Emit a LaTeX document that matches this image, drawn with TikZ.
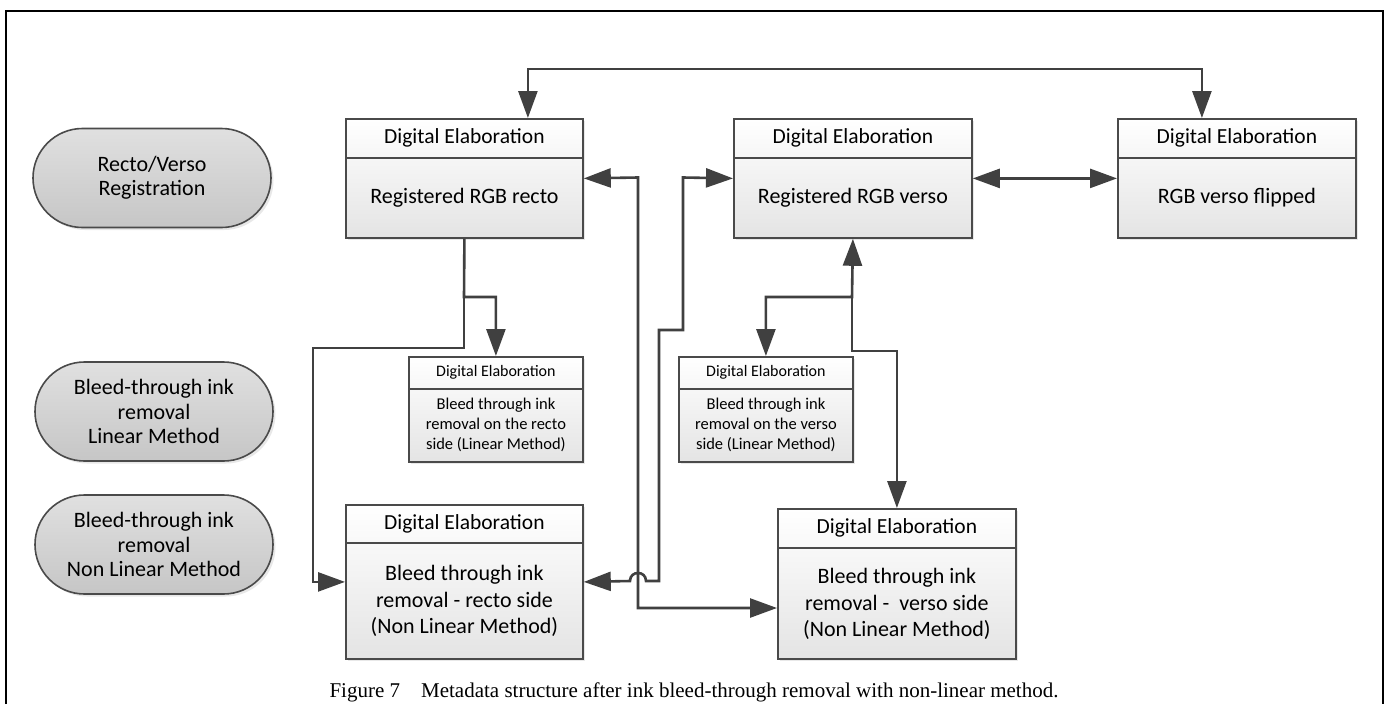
\documentclass[tikz,border=0pt]{standalone}
\usepackage{fontspec}
\setmainfont{Carlito}
\newfontfamily\capfont{Liberation Serif}
\usetikzlibrary{arrows.meta,shadows,calc}
\definecolor{lc}{HTML}{404040}
\definecolor{bc}{HTML}{4A4A4A}
\definecolor{boxbot}{HTML}{E4E4E4}
\definecolor{ovtop}{HTML}{E0E0E0}
\definecolor{ovbot}{HTML}{C6C6C6}
\begin{document}
\begin{tikzpicture}[x=1pt,y=-1pt,
  >={Triangle[length=27pt,width=19pt]},
  conn/.style={line width=2.6pt,draw=lc},
  boxbase/.style={draw=bc,line width=1.8pt,top color=white,bottom color=boxbot,
    drop shadow={shadow xshift=2.5pt,shadow yshift=-2.5pt,opacity=.18},
    inner sep=0pt,anchor=north west},
  sep/.style={draw=bc,line width=1.8pt},
  hd/.style={font=\fontsize{21.5}{26}\selectfont,inner sep=0pt},
  bd/.style={font=\fontsize{22}{26.7}\selectfont,align=center,inner sep=0pt},
  shd/.style={font=\fontsize{16}{20}\selectfont,inner sep=0pt},
  sbd/.style={font=\fontsize{16.5}{20}\selectfont,align=center,inner sep=0pt},
  oval/.style={draw=bc,line width=1.6pt,rounded corners=49.5pt,top color=ovtop,bottom color=ovbot,
    minimum width=238pt,minimum height=99pt,inner sep=0pt,align=center,
    font=\fontsize{22}{24.5}\selectfont,
    drop shadow={shadow xshift=2.5pt,shadow yshift=-2.5pt,opacity=.18}}
]
\useasboundingbox (0,0) rectangle (1388,704);
\fill[white] (0,0) rectangle (1388,704);
% frame
\draw[line width=2.5pt] (6,704) -- (6,11) -- (1383,11) -- (1383,704);

% ovals
\node[oval] (o1) at (152,178) {Recto/Verso\\Registration};
\node[oval] (o2) at (154,411.5) {Bleed-through ink\\removal\\Linear Method};
\node[oval] (o3) at (154,544.5) {Bleed-through ink\\removal\\Non Linear Method};

% big boxes row 1
\node[boxbase,minimum width=237pt,minimum height=119pt] (b1) at (345,118) {};
\draw[sep] ([yshift=-40pt]b1.north west) -- ([yshift=-40pt]b1.north east);
\node[hd] (b1h) at ([yshift=-20pt]b1.north) {Digital Elaboration};
\node[bd] (b1t) at ([yshift=-79.5pt]b1.north) {Registered RGB recto};

\node[boxbase,minimum width=238pt,minimum height=119pt] (b2) at (733,118) {};
\draw[sep] ([yshift=-40pt]b2.north west) -- ([yshift=-40pt]b2.north east);
\node[hd] (b2h) at ([yshift=-20pt]b2.north) {Digital Elaboration};
\node[bd] (b2t) at ([yshift=-79.5pt]b2.north) {Registered RGB verso};

\node[boxbase,minimum width=238pt,minimum height=119pt] (b3) at (1117,118) {};
\draw[sep] ([yshift=-40pt]b3.north west) -- ([yshift=-40pt]b3.north east);
\node[hd] (b3h) at ([yshift=-20pt]b3.north) {Digital Elaboration};
\node[bd] (b3t) at ([yshift=-79.5pt]b3.north) {RGB verso flipped};

% small boxes
\node[boxbase,minimum width=174pt,minimum height=105pt] (s1) at (408,356) {};
\draw[sep] ([yshift=-33pt]s1.north west) -- ([yshift=-33pt]s1.north east);
\node[shd] (s1h) at ([yshift=-16.5pt]s1.north) {Digital Elaboration};
\node[sbd] (s1t) at ([yshift=-69pt]s1.north) {Bleed through ink\\removal on the recto\\side (Linear Method)};

\node[boxbase,minimum width=174pt,minimum height=105pt] (s2) at (678,356) {};
\draw[sep] ([yshift=-33pt]s2.north west) -- ([yshift=-33pt]s2.north east);
\node[shd] (s2h) at ([yshift=-16.5pt]s2.north) {Digital Elaboration};
\node[sbd] (s2t) at ([yshift=-69pt]s2.north) {Bleed through ink\\removal on the verso\\side (Linear Method)};

% big boxes row 3
\node[boxbase,minimum width=237pt,minimum height=154pt] (b4) at (345,504) {};
\draw[sep] ([yshift=-39pt]b4.north west) -- ([yshift=-39pt]b4.north east);
\node[hd] (b4h) at ([yshift=-19.5pt]b4.north) {Digital Elaboration};
\node[bd] (b4t) at ([yshift=-97pt]b4.north) {Bleed through ink\\removal - recto side\\(Non Linear Method)};

\node[boxbase,minimum width=238pt,minimum height=150pt] (b5) at (777,508) {};
\draw[sep] ([yshift=-40pt]b5.north west) -- ([yshift=-40pt]b5.north east);
\node[hd] (b5h) at ([yshift=-20pt]b5.north) {Digital Elaboration};
\node[bd] (b5t) at ([yshift=-96pt]b5.north) {Bleed through ink\\removal -\ \ verso side\\(Non Linear Method)};

% connectors
\draw[conn,<->] ([xshift=63.5pt]b1.north) -- ++(0,-49) -| ([xshift=-35pt]b3.north);
\draw[conn,<->] (b2.east) -- (b3.west);

\coordinate (r1) at (638,177.5);
\coordinate (r2) at (638,608);
\draw[conn,<->] (b1.east) -- (r1) -- (r2) -- (r2 -| b5.west);

\coordinate (q1) at (683,177.5);
\coordinate (q2) at (683,330);
\coordinate (q3) at (659,330);
\coordinate (q4) at (659,581);
\draw[conn,<->] (b2.west) -- (q1) -- (q2) -- (q3) -- (q4) -- (646,581)
  .. controls (646,570.3) and (630,570.3) .. (630,581) -- (b4.east);

\coordinate (k1) at (464,297);
\draw[conn,->] (b1.south) -- (k1) -| (s1.north);
\draw[conn,->] (k1) -- (464,348) -- (313,348) |- (b4.west);

\coordinate (k2) at (852,297);
\draw[conn,<->] (b2.south) -- (k2) -| (s2.north);
\draw[conn,->] (k2) -- (852,351) -| (b5.north);

% caption
\node[font=\capfont\fontsize{21}{24}\selectfont,inner sep=0pt,anchor=base] (cap) at (694,697.5)
  {Figure 7\hspace{1em}Metadata structure after ink bleed-through removal with non-linear method.};
\end{tikzpicture}
\end{document}
